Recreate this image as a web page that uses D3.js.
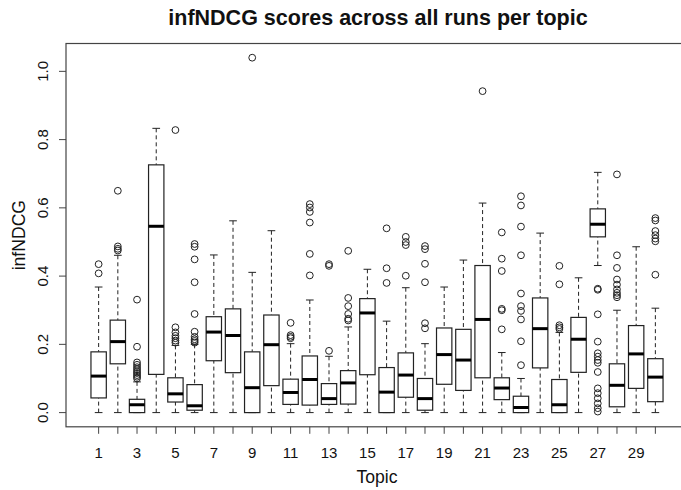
<!DOCTYPE html>
<html lang="en">
<head>
    <meta charset="UTF-8">
    <script src="https://d3js.org/d3.v7.min.js"></script>
    <style>
        body { margin: 0; background: #fff; }
        text { font-family: "Liberation Sans", Arial, sans-serif; fill: #111; }
    </style>
</head>
<body>
    <svg width="681" height="490"></svg>

    <script>
        // per-topic box statistics
        let topics   = d3.range(1, 31);
        let whiskLo  = [0, 0, 0, 0, 0, 0, 0, 0, 0, 0, 0, 0, 0, 0, 0, 0, 0, 0, 0, 0, 0, 0, 0, 0, 0, 0, 0.431, 0, 0, 0];
        let q1       = [0.043, 0.143, 0, 0.112, 0.031, 0.007, 0.152, 0.117, 0, 0.079, 0.024, 0.022, 0.024, 0.025, 0.111,
                        0, 0.045, 0.007, 0.083, 0.065, 0.102, 0.038, 0, 0.131, 0, 0.118, 0.515, 0.017, 0.071, 0.032];
        let medians  = [0.107, 0.208, 0.023, 0.546, 0.055, 0.02, 0.236, 0.226, 0.073, 0.199, 0.059, 0.097, 0.041, 0.087, 0.292,
                        0.06, 0.11, 0.041, 0.17, 0.154, 0.273, 0.072, 0.015, 0.246, 0.023, 0.215, 0.552, 0.08, 0.172, 0.104];
        let q3       = [0.178, 0.271, 0.039, 0.726, 0.102, 0.082, 0.281, 0.304, 0.178, 0.286, 0.098, 0.166, 0.085, 0.123, 0.334,
                        0.132, 0.175, 0.1, 0.248, 0.244, 0.431, 0.102, 0.048, 0.336, 0.097, 0.279, 0.597, 0.143, 0.255, 0.158];
        let whiskHi  = [0.368, 0.461, 0.09, 0.833, 0.197, 0.2, 0.462, 0.562, 0.411, 0.533, 0.202, 0.33, 0.165, 0.251, 0.42,
                        0.268, 0.366, 0.202, 0.368, 0.447, 0.614, 0.176, 0.1, 0.526, 0.235, 0.395, 0.704, 0.3, 0.486, 0.306];
        let outliers = [
            [0.435, 0.408],
            [0.65, 0.487, 0.48, 0.475],
            [0.331, 0.193, 0.147, 0.14, 0.133, 0.127, 0.121, 0.116, 0.11, 0.105, 0.1],
            [],
            [0.828, 0.25, 0.235, 0.225, 0.218, 0.211, 0.205],
            [0.494, 0.486, 0.449, 0.382, 0.289, 0.237, 0.222, 0.215, 0.21, 0.205],
            [],
            [],
            [1.04],
            [],
            [0.263, 0.227, 0.222, 0.218],
            [0.611, 0.601, 0.588, 0.557, 0.465, 0.402],
            [0.435, 0.43, 0.181],
            [0.474, 0.336, 0.312, 0.289, 0.275, 0.27],
            [],
            [0.54, 0.423, 0.38],
            [0.515, 0.5, 0.491, 0.401],
            [0.488, 0.479, 0.436, 0.382, 0.262, 0.247],
            [],
            [],
            [0.942],
            [0.528, 0.451, 0.415, 0.304, 0.3, 0.244],
            [0.634, 0.607, 0.545, 0.461, 0.349, 0.312, 0.298, 0.273, 0.209, 0.139],
            [],
            [0.43, 0.376, 0.256, 0.25, 0.245],
            [],
            [0.363, 0.36, 0.288, 0.208, 0.174, 0.164, 0.154, 0.146, 0.119, 0.071, 0.057, 0.042, 0.027, 0.013, 0.003],
            [0.698, 0.461, 0.424, 0.39, 0.375, 0.361, 0.351, 0.344, 0.338],
            [],
            [0.57, 0.563, 0.532, 0.52, 0.51, 0.502, 0.404]
        ];
        let yTicks = [0, 0.2, 0.4, 0.6, 0.8, 1.0];
        let xTickLabels = topics.filter(t => t % 2 === 1);

        let svg = d3.select("svg");

        // R style extended ranges (4% each side)
        let x = d3.scaleLinear().domain([-0.7, 31.7]).range([66, 688]);
        let y = d3.scaleLinear().domain([-0.0416, 1.0816]).range([426.8, 43.5]);

        let boxHalf = 0.4;
        let capHalf = 0.2;

        // frame
        svg.append("rect")
            .attr("x", x(-0.7)).attr("y", y(1.0816))
            .attr("width", x(31.7) - x(-0.7)).attr("height", y(-0.0416) - y(1.0816))
            .attr("fill", "none").attr("stroke", "#444").attr("stroke-width", 1.2);

        let boxes = svg.selectAll("g.box")
            .data(topics)
            .enter()
            .append("g")
            .attr("class", "box");

        // whiskers (dashed)
        boxes.append("line")
            .attr("x1", d => x(d)).attr("x2", d => x(d))
            .attr("y1", (d, i) => y(whiskHi[i])).attr("y2", (d, i) => y(q3[i]))
            .attr("stroke", "#222").attr("stroke-dasharray", "4,3");
        boxes.append("line")
            .attr("x1", d => x(d)).attr("x2", d => x(d))
            .attr("y1", (d, i) => y(whiskLo[i])).attr("y2", (d, i) => y(q1[i]))
            .attr("stroke", "#222").attr("stroke-dasharray", "4,3");

        // staples
        boxes.append("line")
            .attr("x1", d => x(d - capHalf)).attr("x2", d => x(d + capHalf))
            .attr("y1", (d, i) => y(whiskHi[i])).attr("y2", (d, i) => y(whiskHi[i]))
            .attr("stroke", "#222");
        boxes.append("line")
            .attr("x1", d => x(d - capHalf)).attr("x2", d => x(d + capHalf))
            .attr("y1", (d, i) => y(whiskLo[i])).attr("y2", (d, i) => y(whiskLo[i]))
            .attr("stroke", "#222");

        // boxes
        boxes.append("rect")
            .attr("x", d => x(d - boxHalf))
            .attr("width", d => x(d + boxHalf) - x(d - boxHalf))
            .attr("y", (d, i) => y(q3[i]))
            .attr("height", (d, i) => y(q1[i]) - y(q3[i]))
            .attr("fill", "#fff").attr("stroke", "#222").attr("stroke-width", 1.2);

        // medians
        boxes.append("line")
            .attr("x1", d => x(d - boxHalf)).attr("x2", d => x(d + boxHalf))
            .attr("y1", (d, i) => y(medians[i])).attr("y2", (d, i) => y(medians[i]))
            .attr("stroke", "#000").attr("stroke-width", 3);

        // outliers
        boxes.each(function(d, i) {
            d3.select(this).selectAll("circle")
                .data(outliers[i])
                .enter()
                .append("circle")
                .attr("cx", x(d))
                .attr("cy", v => y(v))
                .attr("r", 3.4)
                .attr("fill", "none").attr("stroke", "#222").attr("stroke-width", 1);
        });

        // x axis: ticks for every topic, labels on odd ones
        let xAxisY = y(-0.0416);
        svg.append("g")
            .selectAll("line")
            .data(topics)
            .enter()
            .append("line")
            .attr("x1", d => x(d)).attr("x2", d => x(d))
            .attr("y1", xAxisY).attr("y2", xAxisY + 7)
            .attr("stroke", "#444");
        svg.append("g")
            .selectAll("text")
            .data(xTickLabels)
            .enter()
            .append("text")
            .attr("x", d => x(d)).attr("y", 457.5)
            .attr("text-anchor", "middle")
            .attr("font-size", 15)
            .text(d => d);

        // y axis
        let yAxisX = x(-0.7);
        svg.append("g")
            .selectAll("line")
            .data(yTicks)
            .enter()
            .append("line")
            .attr("x1", yAxisX - 7).attr("x2", yAxisX)
            .attr("y1", d => y(d)).attr("y2", d => y(d))
            .attr("stroke", "#444");
        svg.append("g")
            .selectAll("text")
            .data(yTicks)
            .enter()
            .append("text")
            .attr("transform", d => "translate(48," + y(d) + ") rotate(-90)")
            .attr("text-anchor", "middle")
            .attr("font-size", 15)
            .text(d => d.toFixed(1));

        // titles
        svg.append("text")
            .attr("x", 378).attr("y", 25)
            .attr("text-anchor", "middle")
            .attr("font-size", 21.5)
            .attr("font-weight", "bold")
            .text("infNDCG scores across all runs per topic");
        svg.append("text")
            .attr("x", 377).attr("y", 483)
            .attr("text-anchor", "middle")
            .attr("font-size", 17.6)
            .text("Topic");
        svg.append("text")
            .attr("transform", "translate(25," + ((y(-0.0416) + y(1.0816)) / 2) + ") rotate(-90)")
            .attr("text-anchor", "middle")
            .attr("font-size", 17.6)
            .text("infNDCG");
    </script>
</body>
</html>
